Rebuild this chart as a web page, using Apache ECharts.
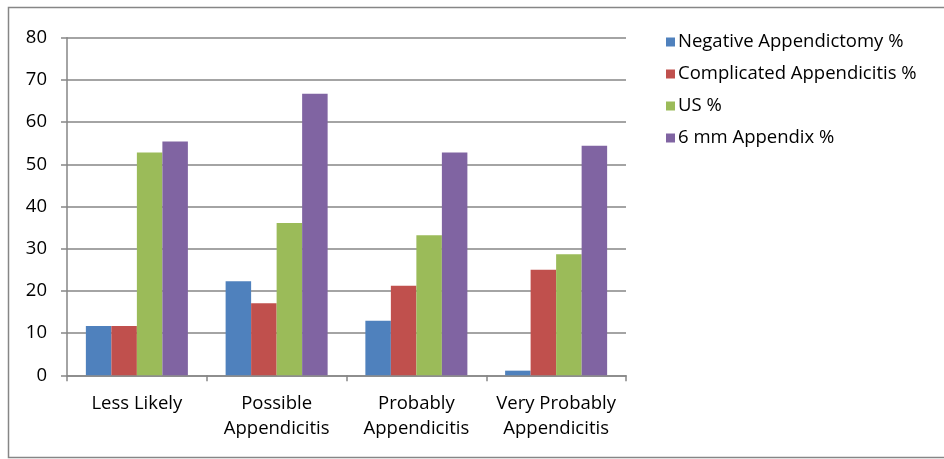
<!DOCTYPE html>
<html><head><meta charset="utf-8">
<script src="https://cdn.jsdelivr.net/npm/echarts@6/dist/echarts.min.js"></script>
<style>html,body{margin:0;padding:0;background:#fff}#c{width:944px;height:459px}</style>
</head><body><div id="c"></div>
<script>
const categories = ['Less Likely', 'Possible\nAppendicitis', 'Probably\nAppendicitis', 'Very Probably\nAppendicitis'];
const negativeAppendectomy = [11.7, 22.3, 12.9, 1.1];
const complicatedAppendicitis = [11.7, 17.1, 21.2, 25.0];
const usPct = [52.8, 36.1, 33.2, 28.7];
const sixMmAppendix = [55.4, 66.7, 52.8, 54.4];
const seriesNames = ['Negative Appendictomy %', 'Complicated Appendicitis %', 'US %', '6 mm Appendix %'];
const yTicks = [0, 80, 10];

const font = '"Open Sans", sans-serif';
const colors = ['#4f81bd', '#c0504d', '#9bbb59', '#8064a2'];
const chart = echarts.init(document.getElementById('c'), null, {renderer: 'canvas'});
const datasets = [negativeAppendectomy, complicatedAppendicitis, usPct, sixMmAppendix];
chart.setOption({
  animation: false,
  color: colors,
  graphic: [{type: 'rect', shape: {x: 8.5, y: 7.5, width: 960, height: 450}, style: {fill: 'none', stroke: '#868686', lineWidth: 1.5}, silent: true}],
  grid: {left: 67, right: 318, top: 37.7, bottom: 83.7, containLabel: false},
  legend: {
    orient: 'vertical', left: 661, top: 25, itemWidth: 9, itemHeight: 9, itemGap: 8,
    icon: 'rect',
    textStyle: {fontFamily: font, fontSize: 18.5, color: '#000', padding: [0, 0, 0, -2], lineHeight: 24},
    data: seriesNames
  },
  xAxis: {
    type: 'category', data: categories,
    axisLine: {lineStyle: {color: '#868686', width: 1.5}},
    axisTick: {show: true, length: 6, lineStyle: {color: '#868686', width: 1.5}},
    axisLabel: {fontFamily: font, fontSize: 18.5, color: '#000', margin: 16, lineHeight: 25, interval: 0}
  },
  yAxis: {
    type: 'value', min: yTicks[0], max: yTicks[1], interval: yTicks[2],
    axisLine: {show: true, lineStyle: {color: '#868686', width: 1.5}},
    axisTick: {show: true, length: 6, lineStyle: {color: '#868686', width: 1.5}},
    splitLine: {lineStyle: {color: '#868686', width: 1.5}},
    axisLabel: {fontFamily: font, fontSize: 18.5, color: '#000', margin: 20}
  },
  series: seriesNames.map((n, i) => ({
    name: n, type: 'bar', data: datasets[i], barGap: '0%', barCategoryGap: '27%',
    itemStyle: {color: colors[i]}
  }))
});
</script></body></html>
